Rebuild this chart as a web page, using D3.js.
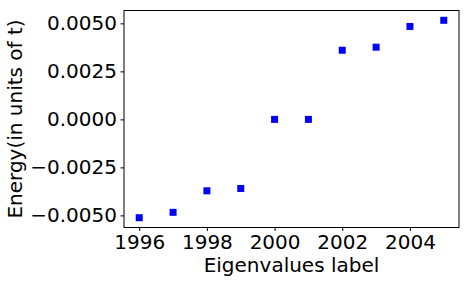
<!DOCTYPE html>
<html>
<head>
<meta charset="utf-8">
<script src="https://cdn.jsdelivr.net/npm/d3@7"></script>
<style>
  body { margin: 0; background: #fff; }
  text { font-family: "DejaVu Sans", sans-serif; }
</style>
</head>
<body>
<div id="chart"></div>
<script>
let labels = [1996, 1997, 1998, 1999, 2000, 2001, 2002, 2003, 2004, 2005];
let energies = [-0.00512, -0.00484, -0.00372, -0.00360, 0, 0, 0.00360, 0.00376, 0.00484, 0.00516];
let xTicks = [1996, 1998, 2000, 2002, 2004];
let yTicks = [-0.005, -0.0025, 0, 0.0025, 0.005];

let width = 469;
let height = 284;
let mLeft = 124, mRight = 459, mTop = 10.5, mBottom = 227.5;
let fs = "20px";

let svg = d3.select("#chart")
    .append("svg")
    .attr("width", width)
    .attr("height", height);

let x = d3.scaleLinear().domain([1995.55, 2005.45]).range([mLeft, mRight]);
let y = d3.scaleLinear().domain([-0.00563, 0.00567]).range([mBottom, mTop]);

// x axis
let xAxis = svg.append("g")
    .attr("transform", "translate(0," + mBottom + ")")
    .call(d3.axisBottom(x).tickValues(xTicks).tickFormat(d3.format("d")).tickSizeOuter(0).tickSize(3.5).tickPadding(3.5));
xAxis.select(".domain").remove();
xAxis.selectAll("text").style("font-size", fs).attr("fill", "#000");
xAxis.selectAll("line").attr("stroke", "#000");

// y axis
let yAxis = svg.append("g")
    .attr("transform", "translate(" + mLeft + ",0)")
    .call(d3.axisLeft(y).tickValues(yTicks).tickFormat(d => d3.format(".4f")(Math.abs(d) < 1e-12 ? 0 : d).replace("-", "\u2212")).tickSizeOuter(0).tickSize(3.5).tickPadding(3.5));
yAxis.select(".domain").remove();
yAxis.selectAll("text").style("font-size", fs).attr("fill", "#000");
yAxis.selectAll("line").attr("stroke", "#000");

// frame
svg.append("rect")
    .attr("x", mLeft)
    .attr("y", mTop)
    .attr("width", mRight - mLeft)
    .attr("height", mBottom - mTop)
    .attr("fill", "none")
    .attr("stroke", "#000")
    .attr("stroke-width", 1);

// points
let s = 7;
svg.selectAll("rect.pt")
    .data(labels)
    .enter().append("rect")
    .attr("class", "pt")
    .attr("x", (d) => x(d) - s / 2)
    .attr("y", (d, i) => y(energies[i]) - s / 2)
    .attr("width", s)
    .attr("height", s)
    .attr("fill", "#0000ff");

// labels
svg.append("text")
    .attr("x", (mLeft + mRight) / 2)
    .attr("y", 272)
    .attr("text-anchor", "middle")
    .style("font-size", fs)
    .text("Eigenvalues label");

svg.append("text")
    .attr("transform", "translate(22," + ((mTop + mBottom) / 2) + ") rotate(-90)")
    .attr("text-anchor", "middle")
    .style("font-size", fs)
    .text("Energy(in units of t)");
</script>
</body>
</html>
